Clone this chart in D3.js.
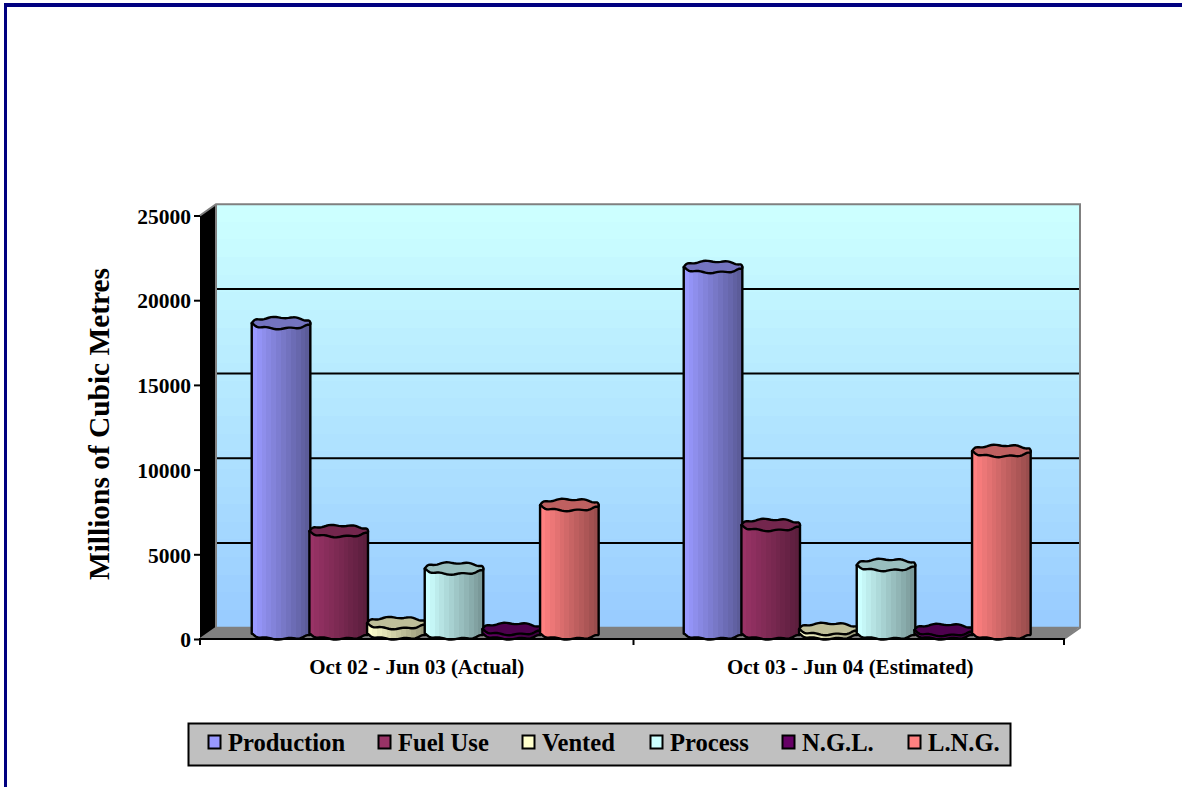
<!DOCTYPE html>
<html><head><meta charset="utf-8">
<script src="https://cdnjs.cloudflare.com/ajax/libs/d3/7.8.5/d3.min.js"></script>
<style>
html,body{margin:0;padding:0;background:#fff}
svg{display:block}
text{font-family:"Liberation Serif","Times New Roman",serif;font-weight:bold;fill:#000}
</style></head><body>
<svg id="c" width="1182" height="787"></svg>
<script>
const periods = ["Oct 02 - Jun 03 (Actual)", "Oct 03 - Jun 04 (Estimated)"];
const seriesNames = ["Production", "Fuel Use", "Vented", "Process", "N.G.L.", "L.N.G."];
const seriesColors = ["#9999FF", "#993366", "#FFFFCC", "#CCFFFF", "#660066", "#FF8080"];
const production = [18320, 21630];
const fuelUse = [6040, 6400];
const vented = [610, 260];
const processGas = [3830, 4040];
const ngl = [260, 200];
const lng = [7580, 10770];
const seriesValues = [production, fuelUse, vented, processGas, ngl, lng];
const yTicks = [0, 5000, 10000, 15000, 20000, 25000];
const legendX = [208, 378, 522, 650, 782, 908];

const svg = d3.select("#c");
const defs = svg.append("defs");

// page frame
svg.append("rect").attr("x",4).attr("y",3).attr("width",1178).attr("height",4).attr("fill","#000080");
svg.append("rect").attr("x",4).attr("y",3).attr("width",3).attr("height",784).attr("fill","#000080");

// 3D geometry
const depth = {dx:16, dy:-11.3};
const frontX = [200, 1064], frontY0 = 639, frontY1 = 215.5;
const yFront = d3.scaleLinear().domain([0,25000]).range([frontY0, frontY1]);
const yBack  = v => yFront(v) + depth.dy;
const yMid   = v => yFront(v) + depth.dy/2;
const xGroup = d3.scaleBand().domain(periods).range([frontX[0]+depth.dx/2, frontX[1]+depth.dx/2]);
const barsW = 346;
const xBar = d3.scaleBand().domain(seriesNames).range([0, barsW]).paddingInner(0);

// back wall gradient
const bg = defs.append("linearGradient").attr("id","wall").attr("x1",0).attr("x2",0).attr("y1",0).attr("y2",1);
const bgI = d3.interpolateRgb("#CCFFFF","#99CCFF");
d3.range(24).forEach(i=>{
  bg.append("stop").attr("offset",i/24).attr("stop-color",bgI(i/23));
  bg.append("stop").attr("offset",(i+1)/24).attr("stop-color",bgI(i/23));
});
const backL = frontX[0]+depth.dx, backR = frontX[1]+depth.dx;
svg.append("rect").attr("x",backL).attr("y",yBack(25000)).attr("width",backR-backL)
  .attr("height",yBack(0)-yBack(25000)).attr("fill","url(#wall)");

// floor and left wall
svg.append("path").attr("fill","#808080")
  .attr("d",`M${frontX[0]},${frontY0}L${backL},${yBack(0)-1}L${backR},${yBack(0)-1}L${frontX[1]},${frontY0}Z`);
svg.append("path").attr("fill","#000")
  .attr("d",`M${frontX[0]},${frontY0}L${backL},${yBack(0)}L${backL},${yBack(25000)}L${frontX[0]},${frontY1}Z`);
// grey edges
svg.append("path").attr("fill","none").attr("stroke","#808080").attr("stroke-width",2)
  .attr("d",`M${frontX[0]},${frontY1}L${backL},${yBack(25000)}L${backR},${yBack(25000)}L${backR},${yBack(0)}L${frontX[1]},${frontY0}`);
svg.append("path").attr("fill","none").attr("stroke","#808080").attr("stroke-width",2)
  .attr("d",`M${backL},${yBack(25000)}L${backL},${yBack(0)}L${frontX[0]},${frontY0}`);

// gridlines
svg.append("g").selectAll("line").data(yTicks.filter(d=>d>0&&d<25000)).join("line")
  .attr("x1",backL+1).attr("x2",backR-1).attr("y1",d=>yBack(d)).attr("y2",d=>yBack(d))
  .attr("stroke","#000").attr("stroke-width",2);

// bar gradients
seriesColors.forEach((c,i)=>{
  const g = defs.append("linearGradient").attr("id","bar"+i).attr("x1",0).attr("x2",1).attr("y1",0).attr("y2",0);
  const base = d3.rgb(c);
  const n = 12;
  d3.range(n).forEach(k=>{
    const f = 1 - 0.4*k/(n-1);
    const col = d3.rgb(base.r*f,base.g*f,base.b*f).formatHex();
    g.append("stop").attr("offset",k/n).attr("stop-color",col);
    g.append("stop").attr("offset",(k+1)/n).attr("stop-color",col);
  });
});

// wavy cylinder outline
const rx = 29.3, ry = 5.6, wob = 0.75;
function rimPoint(cx,cy,t){
  return [cx+rx*Math.cos(t), cy+ry*Math.sin(t)+wob*Math.sin(8*t+0.6)];
}
const rimClosed = d3.line().curve(d3.curveLinearClosed);
function rim(cx,cy){ return rimClosed(d3.range(0,72).map(k=>rimPoint(cx,cy,k/72*2*Math.PI))); }
function body(cx,yTop,yBase){
  const pts = d3.range(0,37).map(k=>rimPoint(cx,yBase,k/36*Math.PI));
  let d = `M${cx+rx},${yTop}L${cx+rx},${yBase}`;
  pts.forEach(p=>{d+=`L${p[0]},${p[1]}`;});
  d += `L${cx-rx},${yTop}Z`;
  return d;
}

const barsG = svg.append("g");
periods.forEach((p,pi)=>{
  const gx = xGroup(p)+xGroup.bandwidth()/2-barsW/2;
  seriesNames.forEach((s,si)=>{
    const v = seriesValues[si][pi];
    const cx = gx + xBar(s) + xBar.bandwidth()/2 + 1.2;
    const yT = yMid(v), yB = yMid(0);
    barsG.append("path").attr("d",body(cx,yT,yB)).attr("fill",`url(#bar${si})`)
      .attr("stroke","#000").attr("stroke-width",2.4).attr("stroke-linejoin","round");
    const c = d3.rgb(seriesColors[si]);
    barsG.append("path").attr("d",rim(cx,yT))
      .attr("fill",d3.rgb(c.r*0.75,c.g*0.75,c.b*0.75).formatHex())
      .attr("stroke","#000").attr("stroke-width",2.4).attr("stroke-linejoin","round");
  });
});

// axes
const yAxis = d3.axisLeft(yFront).tickValues(yTicks).tickSize(6).tickPadding(3).tickFormat(d3.format("d"));
const yG = svg.append("g").attr("transform",`translate(${frontX[0]},0)`).call(yAxis);
yG.attr("font-family",null).attr("font-size",null);
yG.select(".domain").remove();
yG.selectAll("line").attr("stroke","#000").attr("stroke-width",2);
yG.selectAll("text").attr("font-size",21.5).attr("dy","0.36em");

const xEdges = d3.scaleBand().domain(periods).range([frontX[0], frontX[1]+3]);
svg.append("line").attr("x1",frontX[0]-1).attr("x2",frontX[1]+1).attr("y1",frontY0).attr("y2",frontY0)
  .attr("stroke","#000").attr("stroke-width",2);
svg.append("g").selectAll("line").data([frontX[0],xEdges(periods[1]),frontX[1]]).join("line")
  .attr("x1",d=>d).attr("x2",d=>d).attr("y1",frontY0).attr("y2",frontY0+6)
  .attr("stroke","#000").attr("stroke-width",2);
svg.append("g").selectAll("text").data(periods).join("text")
  .attr("x",d=>xEdges(d)+xEdges.bandwidth()/2).attr("y",674)
  .attr("text-anchor","middle").attr("font-size",21).text(d=>d);

// axis title
svg.append("text").attr("transform","translate(109,424) rotate(-90)")
  .attr("text-anchor","middle").attr("font-size",29.4).text("Millions of Cubic Metres");

// legend
const lg = svg.append("g");
lg.append("rect").attr("x",188.5).attr("y",723.5).attr("width",822).attr("height",42)
  .attr("fill","#C0C0C0").attr("stroke","#000").attr("stroke-width",2);
seriesNames.forEach((s,i)=>{
  lg.append("rect").attr("x",legendX[i]+.5).attr("y",735.5).attr("width",12).attr("height",13)
    .attr("fill",seriesColors[i]).attr("stroke","#000").attr("stroke-width",2);
  lg.append("text").attr("x",legendX[i]+20).attr("y",751).attr("font-size",24.6).text(s);
});
</script>
</body></html>
